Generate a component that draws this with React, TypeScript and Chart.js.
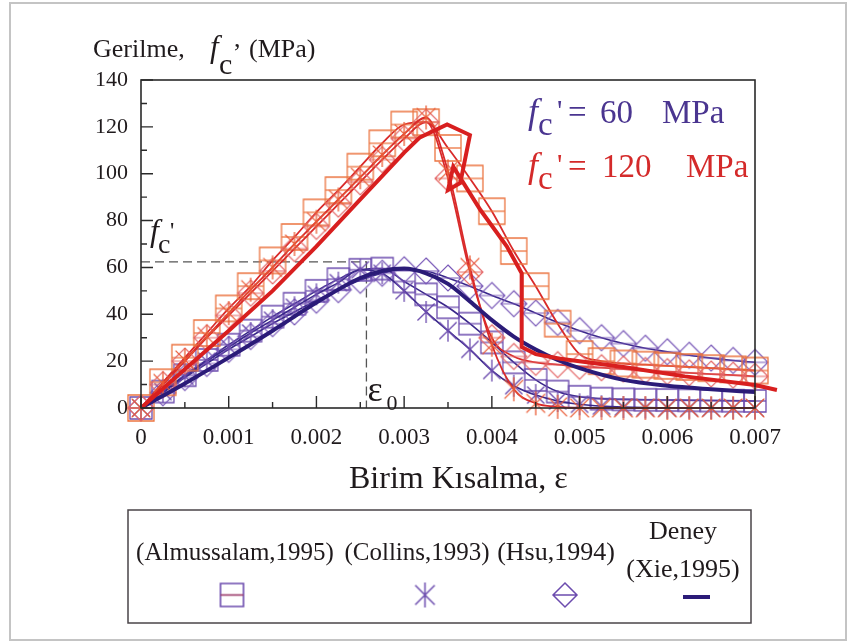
import React, { useEffect, useRef } from 'react';
import { Chart, registerables } from 'chart.js';
Chart.register(...registerables);

// ---------- data ----------
const modelStrain = [0, 0.00025, 0.0005, 0.00075, 0.001, 0.00125, 0.0015, 0.00175, 0.002, 0.00225, 0.0025, 0.00275, 0.003, 0.00325, 0.0035, 0.00375, 0.004, 0.00425, 0.0045, 0.00475, 0.005, 0.00525, 0.0055, 0.00575, 0.006, 0.00625, 0.0065, 0.00675, 0.007];

// f'c = 60 MPa
const almussalam60 = [0, 7, 14, 20.5, 27, 33, 39, 44.5, 50, 55, 59, 59.5, 54, 48.5, 43, 36, 28, 19.5, 12, 7, 4.8, 4, 3.7, 3.5, 3.4, 3.3, 3.2, 3.1, 3];
const collins60 = [0, 7, 13.5, 20, 26, 32, 37.5, 43, 48.5, 53.5, 59, 57.5, 50, 41, 33, 25, 16, 9.5, 5.5, 3, 1.6, 0.8, 0.4, 0.2, 0.1, 0.1, 0, 0, 0];
const hsu60 = [0, 6.5, 13, 19, 25, 30.5, 36, 41, 46, 50.5, 54.5, 57.5, 59, 58.5, 55.5, 52, 48, 44.5, 40.5, 36.5, 33, 30, 27.5, 25.5, 24, 22.5, 21.3, 20.3, 19.5];
const testStrain60 = [0, 0.0005, 0.001, 0.0015, 0.002, 0.0025, 0.00275, 0.003, 0.00325, 0.0035, 0.00375, 0.004, 0.00425, 0.0045, 0.00475, 0.005, 0.0055, 0.006, 0.0065, 0.007];
const test60 = [0, 10.5, 21.5, 33, 45, 55.5, 58.5, 59.5, 57.5, 53, 45.5, 37.5, 30.5, 25, 20.5, 17, 12, 9.5, 8, 6.8];

// f'c = 120 MPa
const almussalam120 = [0, 11, 21.5, 32, 42.5, 52, 63, 73, 83.5, 93, 103, 113, 121, 122, 111, 98, 84, 67, 52, 36, 23, 20, 19, 18.5, 18, 17.5, 17, 16.5, 16];
const collins120 = [0, 10.5, 20.5, 30.5, 40.5, 50.5, 60, 70, 79.5, 89, 98.5, 108, 117, 124, 101, 60, 27, 8, 2, 0.5, 0, 0, 0, 0, 0, 0, 0, 0, 0];
const hsu120 = [0, 10, 20, 30, 39.5, 49, 58.5, 68, 77.5, 87, 96.5, 106, 115, 122, 98, 58, 30, 22, 19.5, 18.5, 17.8, 17.2, 16.6, 16, 15.5, 15, 14.5, 14, 13.5];
const testStrain120 = [0, 0.0005, 0.001, 0.0015, 0.002, 0.0025, 0.003, 0.00318, 0.00349, 0.00375, 0.00364, 0.0035, 0.00356, 0.00387, 0.00417, 0.00434, 0.00434, 0.0045, 0.00478, 0.0055, 0.0062, 0.007, 0.00725];
const test120 = [0, 16.5, 33, 50, 69, 89, 109, 115.5, 121, 116.5, 96, 93, 103, 84.5, 69, 57.5, 26, 23, 21, 17.5, 13.5, 9.8, 7.7];

// reference marks
const fcPrime = 62.4;
const eps0 = 0.00257;

const xTickLabels = ['0', '0.001', '0.002', '0.003', '0.004', '0.005', '0.006', '0.007'];
const yTickLabels = ['0', '20', '40', '60', '80', '100', '120', '140'];
const legendLabels = ['(Almussalam,1995)', '(Collins,1993)', '(Hsu,1994)'];

// ---------- styles ----------
const SERIF = '"Liberation Serif", "Times New Roman", serif';
const RED_LINE = '#d92a2a';
const RED_THICK = '#d81f1f';
const BLUE_LINE = '#3a288a';
const BLUE_THICK = '#2b1b78';
const BLUE_MARK = '#6c4cae';
const PURPLE_TEXT = '#4a3590';
const INK = '#1f1a1c';

function makeMarker(kind: string, size: number, color: string, lw = 1.3, mid?: string) {
  const c = document.createElement('canvas');
  const s = Math.ceil(size + 4);
  c.width = s;
  c.height = s;
  const g = c.getContext('2d')!;
  g.strokeStyle = color;
  g.lineWidth = lw;
  const m = s / 2;
  const h = size / 2;
  g.beginPath();
  if (kind === 'square') {
    g.rect(m - h, m - h, size, size);
    g.stroke();
    g.beginPath();
    g.strokeStyle = mid || color;
    g.moveTo(m - h, m);
    g.lineTo(m + h, m);
  } else if (kind === 'diamond') {
    g.moveTo(m, m - h);
    g.lineTo(m + h, m);
    g.lineTo(m, m + h);
    g.lineTo(m - h, m);
    g.closePath();
    g.moveTo(m - h, m);
    g.lineTo(m + h, m);
  } else {
    g.moveTo(m, m - h);
    g.lineTo(m, m + h);
    const d = h * 0.78;
    g.moveTo(m - d, m - d);
    g.lineTo(m + d, m + d);
    g.moveTo(m + d, m - d);
    g.lineTo(m - d, m + d);
  }
  g.stroke();
  return c;
}

function xy(xs: number[], ys: number[]) {
  return xs.map((x, i) => ({ x, y: ys[i] }));
}

function modelSet(label: string, values: number[], line: string, marker: HTMLCanvasElement, width = 1.6) {
  return {
    label,
    data: xy(modelStrain, values),
    borderColor: line,
    borderWidth: width,
    pointStyle: marker,
    pointRadius: 6,
    cubicInterpolationMode: 'monotone',
    fill: false,
    clip: false,
  };
}

export default function App() {
  const ref = useRef<HTMLCanvasElement | null>(null);

  useEffect(() => {
    document.body.style.margin = '0';
    const canvas = ref.current!;

    const mk = {
      rSq: makeMarker('square', 26, '#ec7440', 1.3),
      rSt: makeMarker('star', 24, '#ea5c36', 1.3),
      rDi: makeMarker('diamond', 26, '#e46868', 1.2),
      bSq: makeMarker('square', 22, BLUE_MARK, 1.3),
      bSt: makeMarker('star', 22, BLUE_MARK, 1.3),
      bDi: makeMarker('diamond', 26, '#7a5ab8', 1.2),
      lSq: makeMarker('square', 23, BLUE_MARK, 1.6, '#9a3a6a'),
      lSt: makeMarker('star', 25, BLUE_MARK, 1.5),
      lDi: makeMarker('diamond', 24, BLUE_MARK, 1.5),
    };

    const decor = {
      id: 'decor',
      beforeDraw(chart: any) {
        const ctx = chart.ctx;
        ctx.save();
        ctx.fillStyle = '#ffffff';
        ctx.fillRect(0, 0, chart.width, chart.height);
        ctx.restore();
      },
      afterDraw(chart: any) {
        const ctx = chart.ctx as CanvasRenderingContext2D;
        const a = chart.chartArea;
        const xs = chart.scales.x;
        const ys = chart.scales.y;
        ctx.save();
        // outer frame
        ctx.strokeStyle = '#c4c4c4';
        ctx.lineWidth = 2;
        ctx.strokeRect(10, 3, 836, 637);
        // plot frame
        ctx.strokeStyle = '#2a2a2a';
        ctx.lineWidth = 1.6;
        ctx.strokeRect(a.left, a.top, a.right - a.left, a.bottom - a.top);
        // inward ticks
        ctx.lineWidth = 1.4;
        ctx.beginPath();
        const xt = xs.ticks;
        xt.forEach((t: any, i: number) => {
          const p = xs.getPixelForValue(t.value);
          ctx.moveTo(p, a.bottom);
          ctx.lineTo(p, a.bottom - 12);
          if (i < xt.length - 1) {
            const q = xs.getPixelForValue((t.value + xt[i + 1].value) / 2);
            ctx.moveTo(q, a.bottom);
            ctx.lineTo(q, a.bottom - 6);
          }
        });
        const yt = ys.ticks;
        yt.forEach((t: any, i: number) => {
          const p = ys.getPixelForValue(t.value);
          ctx.moveTo(a.left, p);
          ctx.lineTo(a.left + 12, p);
          if (i < yt.length - 1) {
            const q = ys.getPixelForValue((t.value + yt[i + 1].value) / 2);
            ctx.moveTo(a.left, q);
            ctx.lineTo(a.left + 6, q);
          }
        });
        ctx.stroke();

        const txt = (s: string, x: number, y: number, size: number, color: string, italic = false, align: CanvasTextAlign = 'left') => {
          ctx.font = `${italic ? 'italic ' : ''}${size}px ${SERIF}`;
          ctx.fillStyle = color;
          ctx.textAlign = align;
          ctx.textBaseline = 'alphabetic';
          ctx.fillText(s, x, y);
        };
        // y title
        txt('Gerilme,', 93, 57, 26, INK);
        txt('f', 210, 57, 31, INK, true);
        txt('c', 219, 74, 30, INK);
        txt(',', 234, 47, 26, INK);
        txt('(MPa)', 249, 57, 26, INK);
        // x title
        txt('Birim Kısalma, ε', 349, 488, 32, INK);

        // f'c labels inside plot
        const fcLabel = (y: number, color: string, num: string, numX: number, mpaX: number) => {
          txt('f', 528, y, 36, color, true);
          txt('c', 538, y + 12, 33, color);
          txt("'", 557, y - 3, 30, color);
          txt('=', 568, y, 33, color);
          txt(num, numX, y, 33, color);
          txt('MPa', mpaX, y, 33, color);
        };
        fcLabel(123, PURPLE_TEXT, '60', 600, 662);
        fcLabel(177, '#d42a2a', '120', 602, 686);

        // f'c and eps0 annotations
        const fx = xs.getPixelForValue(0);
        txt('f', fx + 9, 241, 32, INK, true);
        txt('c', fx + 17, 253, 28, INK);
        txt("'", fx + 29, 238, 24, INK);
        const ex = xs.getPixelForValue(eps0);
        txt('ε', ex + 1, 401, 36, INK);
        txt('0', ex + 20, 410, 22, INK);

        // legend box
        ctx.strokeStyle = '#4a4448';
        ctx.lineWidth = 1.5;
        ctx.strokeRect(128, 510, 623, 113);
        txt(legendLabels[0], 235, 560, 25, INK, false, 'center');
        txt(legendLabels[1], 417, 560, 25, INK, false, 'center');
        txt(legendLabels[2], 556, 560, 26, INK, false, 'center');
        txt('Deney', 683, 539, 26, INK, false, 'center');
        txt('(Xie,1995)', 683, 577, 26, INK, false, 'center');
        const put = (m: HTMLCanvasElement, x: number, y: number) => ctx.drawImage(m, x - m.width / 2, y - m.height / 2);
        put(mk.lSq, 232, 595);
        put(mk.lSt, 425, 595);
        put(mk.lDi, 565, 595);
        ctx.strokeStyle = BLUE_THICK;
        ctx.lineWidth = 4;
        ctx.beginPath();
        ctx.moveTo(683, 597);
        ctx.lineTo(710, 597);
        ctx.stroke();
        ctx.restore();
      },
    };

    const datasets: any[] = [
      {
        label: 'Deney 120',
        data: xy(testStrain120, test120),
        borderColor: RED_THICK,
        borderWidth: 4,
        pointRadius: 0,
        tension: 0,
        fill: false,
        clip: false,
      },
      {
        label: 'Deney 60',
        data: xy(testStrain60, test60),
        borderColor: BLUE_THICK,
        borderWidth: 4,
        pointRadius: 0,
        cubicInterpolationMode: 'monotone',
        fill: false,
        clip: false,
      },
      modelSet('Collins 120', collins120, RED_LINE, mk.rSt, 1.8),
      modelSet('Hsu 120', hsu120, RED_LINE, mk.rDi, 1.8),
      modelSet('Almussalam 120', almussalam120, RED_LINE, mk.rSq, 1.8),
      modelSet('Collins 60', collins60, BLUE_LINE, mk.bSt, 1.6),
      modelSet('Hsu 60', hsu60, BLUE_LINE, mk.bDi, 1.6),
      modelSet('Almussalam 60', almussalam60, BLUE_LINE, mk.bSq, 1.6),
      {
        label: 'fc guide',
        data: [{ x: 0, y: fcPrime }, { x: eps0, y: fcPrime }, { x: eps0, y: 0 }],
        borderColor: '#555',
        borderWidth: 1.3,
        borderDash: [9, 5],
        pointRadius: 0,
        tension: 0,
        fill: false,
      },
    ];

    const chart = new Chart(canvas, {
      type: 'line',
      data: { datasets },
      options: {
        animation: false,
        responsive: false,
        events: [],
        layout: { padding: { left: 0, top: 80, right: 94, bottom: 0 } },
        plugins: { legend: { display: false }, tooltip: { enabled: false }, title: { display: false } },
        scales: {
          x: {
            type: 'linear',
            min: 0,
            max: 0.007,
            afterFit: (s: any) => { s.height = 236; },
            grid: { display: false, drawTicks: false },
            border: { display: false },
            ticks: {
              stepSize: 0.001,
              autoSkip: false,
              maxRotation: 0,
              padding: 16,
              color: INK,
              font: { family: SERIF, size: 23 },
              callback: (_v: any, i: number) => xTickLabels[i],
            },
          },
          y: {
            type: 'linear',
            min: 0,
            max: 140,
            afterFit: (s: any) => { s.width = 141; },
            grid: { display: false, drawTicks: false },
            border: { display: false },
            ticks: {
              stepSize: 20,
              padding: 13,
              color: INK,
              font: { family: SERIF, size: 22 },
              callback: (_v: any, i: number) => yTickLabels[i],
            },
          },
        },
      },
      plugins: [decor],
    } as any);

    return () => chart.destroy();
  }, []);

  return (
    <div style={{ width: 849, height: 644 }}>
      <canvas ref={ref} width={849} height={644} style={{ display: 'block' }} />
    </div>
  );
}
